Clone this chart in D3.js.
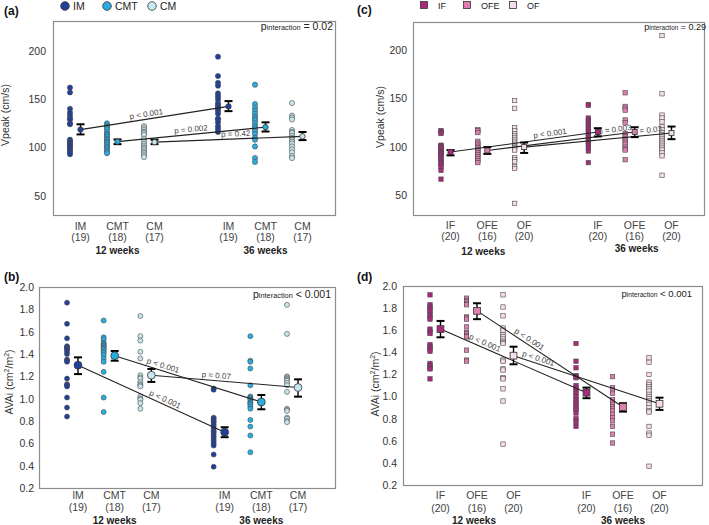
<!DOCTYPE html>
<html><head><meta charset="utf-8">
<script src="https://cdn.jsdelivr.net/npm/d3@7"></script>
<style>
body{margin:0;background:#fff;}
svg text{font-family:"Liberation Sans",Arial,sans-serif;}
</style></head><body>
<svg id="fig" width="709" height="525"></svg>
<script>
// slot order in every panel: 12 weeks (g1,g2,g3), 36 weeks (g1,g2,g3)
const mothGroups = ["IM", "CMT", "CM"];
const mothN = [19, 18, 17];
const fathGroups = ["IF", "OFE", "OF"];
const fathN = [20, 16, 20];
const weekLabels = ["12 weeks", "36 weeks"];

// (a) Vpeak by maternal group
const vpeakIM12 = [162,157,140,136,133,130,129,125,124,108,106,105,103,102,100,99,97,95,93];
const vpeakCMT12 = [125,123,121,119,116,114,113,111,109,108,106,105,103,101,100,98,96,94];
const vpeakCM12 = [122,120,118,116,115,113,109,106,104,102,100,99,97,95,94,92,90];
const vpeakIM36 = [194,174,167,164,156,153,150,146,144,142,140,138,135,130,129,126,122,119,116];
const vpeakCMT36 = [165,145,141,138,135,132,130,128,125,122,120,117,114,110,108,101,89,85];
const vpeakCM36 = [146,133,131,129,118,116,115,112,110,108,106,104,101,98,95,91,89];
const vpeakMothMean = [118.5, 106, 105.5, 142.5, 121, 111.5];
const vpeakMothLo = [113.5, 103.4, 103.4, 137.6, 116.5, 107.6];
const vpeakMothHi = [124, 108.3, 108, 148, 126, 116];
const vpeakMothP = ["p < 0.001", "p = 0.002", "p = 0.42"];

// (b) AVAi by maternal group
const avaiIM12 = [1.86,1.67,1.54,1.47,1.46,1.45,1.44,1.42,1.40,1.35,1.34,1.33,1.18,1.13,1.12,1.11,1.01,0.92,0.84];
const avaiCMT12 = [1.70,1.55,1.53,1.50,1.49,1.48,1.47,1.46,1.45,1.44,1.42,1.41,1.39,1.36,1.33,1.24,1.01,0.88];
const avaiCM12 = [1.74,1.56,1.52,1.42,1.36,1.21,1.19,1.18,1.15,1.13,1.12,1.11,1.02,1.00,0.99,0.96,0.91];
const avaiIM36 = [1.09,1.08,0.83,0.82,0.80,0.79,0.77,0.75,0.73,0.71,0.70,0.68,0.66,0.64,0.62,0.60,0.58,0.50,0.39];
const avaiCMT36 = [1.56,1.34,1.33,1.27,1.12,1.02,1.01,1.00,0.99,0.97,0.96,0.95,0.93,0.91,0.81,0.75,0.67,0.52];
const avaiCM36 = [1.84,1.58,1.20,1.19,1.18,1.17,1.16,1.14,1.12,1.06,0.91,0.90,0.89,0.83,0.82,0.80,0.79];
const avaiMothMean = [1.30, 1.385, 1.21, 0.70, 0.97, 1.10];
const avaiMothLo = [1.22, 1.34, 1.15, 0.655, 0.905, 1.018];
const avaiMothHi = [1.37, 1.427, 1.266, 0.744, 1.033, 1.173];
const avaiMothP = ["p < 0.001", "p < 0.001", "p = 0.07"];

// (c) Vpeak by paternal group
const vpeakIF12 = [117,116,114,102,101,100,99,97,95,94,93,92,90,88,86,84,82,80,76,67];
const vpeakOFE12 = [118,117,115,106,104,102,100,99,97,96,94,92,90,88,86,84];
const vpeakOF12 = [148,140,120,117,114,112,110,108,106,104,102,100,99,97,89,87,85,80,78,42];
const vpeakIF36 = [144,143,130,128,126,124,122,120,118,116,114,112,110,108,106,104,102,99,96,84];
const vpeakOFE36 = [156,142,140,138,128,125,114,111,109,107,105,103,100,98,97,87];
const vpeakOF36 = [215,155,133,130,126,121,118,115,113,111,109,107,105,103,101,99,97,94,91,71];
const vpeakFathMean = [95, 96.5, 100, 115.5, 115.5, 114.5];
const vpeakFathLo = [91.5, 93, 94, 111, 110.3, 108.2];
const vpeakFathHi = [97, 100, 104.7, 119.5, 120.5, 121.2];
const vpeakFathP = ["p < 0.001", "p = 0.003", "p = 0.03"];

// (d) AVAi by paternal group
const avaiIF12 = [1.92,1.83,1.81,1.79,1.77,1.74,1.72,1.70,1.61,1.59,1.57,1.47,1.45,1.43,1.41,1.30,1.28,1.26,1.25,1.16];
const avaiOFE12 = [1.89,1.87,1.86,1.84,1.83,1.72,1.71,1.70,1.63,1.58,1.57,1.55,1.54,1.42,1.33,1.32];
const avaiOF12 = [1.92,1.81,1.73,1.62,1.60,1.56,1.54,1.52,1.50,1.49,1.48,1.33,1.32,1.25,1.24,1.17,1.16,1.07,0.96,0.57];
const avaiIF36 = [1.48,1.32,1.26,1.19,1.18,1.17,1.10,1.08,1.05,1.03,1.00,0.97,0.95,0.93,0.90,0.88,0.85,0.80,0.77,0.73];
const avaiOFE36 = [1.18,1.08,1.06,1.03,0.97,0.95,0.93,0.91,0.89,0.87,0.84,0.81,0.78,0.73,0.66,0.58];
const avaiOF36 = [1.35,1.31,1.20,1.13,1.11,1.09,1.07,1.05,1.02,1.00,0.98,0.96,0.93,0.90,0.87,0.86,0.73,0.67,0.65,0.37];
const avaiFathMean = [1.61, 1.775, 1.37, 1.035, 0.905, 0.935];
const avaiFathLo = [1.536, 1.70, 1.292, 0.985, 0.864, 0.879];
const avaiFathHi = [1.684, 1.844, 1.451, 1.081, 0.94, 0.99];
const avaiFathP = ["p < 0.001", "p < 0.001", "p < 0.001"];

const vpeakTicks = [50, 100, 150, 200];
const avaiTicks = [0.2, 0.4, 0.6, 0.8, 1.0, 1.2, 1.4, 1.6, 1.8, 2.0];

const mothColors = ["#21409a", "#2aaee0", "#c8e6ef"];
const fathColors = ["#a92a7c", "#df7fb1", "#f6dce8"];

const svg = d3.select("#fig");
const slotPos = [0, 1, 2, 4, 5, 6];

function addMarker(sel, shape, size, fill) {
	if (shape === "circle") {
		return sel.append("circle").attr("r", size).attr("fill", fill);
	}
	return sel.append("rect").attr("x", -size).attr("y", -size)
		.attr("width", size * 2).attr("height", size * 2).attr("fill", fill);
}

function drawPanel(c) {
	const g = svg.append("g");
	const x = d3.scaleLinear().domain([0, 6]).range(c.dotRange);
	const y = d3.scaleLinear().domain(c.yDomain).range([c.frame[3], c.frame[1]]);
	const mx = i => x(slotPos[i]) + c.meanOff;

	// frame
	g.append("rect")
		.attr("x", c.frame[0] + 0.5).attr("y", c.frame[1] + 0.5)
		.attr("width", c.frame[2] - c.frame[0]).attr("height", c.frame[3] - c.frame[1])
		.attr("fill", "none").attr("stroke", "#8c8c8c").attr("stroke-width", 1.2);

	// y axis
	const ax = g.append("g")
		.attr("transform", `translate(${c.frame[0] - c.tickGap},0)`)
		.call(d3.axisLeft(y).tickValues(c.ticks).tickSize(0).tickPadding(0).tickFormat(c.fmt));
	ax.select(".domain").remove();
	ax.attr("font-family", null).attr("font-size", null);
	ax.selectAll("text").attr("font-size", 10.5).attr("fill", "#333");

	g.append("text")
		.attr("transform", `translate(${c.ylabelX},${c.ylabelY}) rotate(-90)`)
		.attr("text-anchor", "middle").attr("font-size", 10.5).attr("fill", "#333")
		.call(t => c.ylabel(t));

	// x labels
	for (let i = 0; i < 6; i++) {
		g.append("text").attr("x", mx(i)).attr("y", c.labY[0])
			.attr("text-anchor", "middle").attr("font-size", 10.5).attr("fill", "#444")
			.text(c.groups[i % 3]);
		g.append("text").attr("x", mx(i)).attr("y", c.labY[1])
			.attr("text-anchor", "middle").attr("font-size", 10.5).attr("fill", "#444")
			.text("(" + c.ns[i % 3] + ")");
	}
	weekLabels.forEach((w, k) => {
		g.append("text").attr("x", mx(k * 3 + 1) + c.weekOff[k]).attr("y", c.weekY[k])
			.attr("text-anchor", "middle").attr("font-size", 10).attr("font-weight", "bold")
			.attr("fill", "#222").text(w);
	});

	// individual points
	c.values.forEach((vals, i) => {
		g.append("g").selectAll("g").data(vals).join("g")
			.attr("transform", d => `translate(${x(slotPos[i])},${y(d)})`)
			.each(function () {
				addMarker(d3.select(this), c.shape, c.dotSize, c.colors[i % 3])
					.attr("stroke", "#4a4a4a").attr("stroke-width", 0.6);
			});
	});

	// lines between 12 and 36 week means
	for (let k = 0; k < 3; k++) {
		const x1 = mx(k), y1 = y(c.mean[k]), x2 = mx(k + 3), y2 = y(c.mean[k + 3]);
		g.append("line").attr("x1", x1).attr("y1", y1).attr("x2", x2).attr("y2", y2)
			.attr("stroke", "#222").attr("stroke-width", 1.1);
		const t = c.pT[k];
		const px = x1 + (x2 - x1) * t, py = y1 + (y2 - y1) * t;
		const ang = Math.atan2(y2 - y1, x2 - x1) * 180 / Math.PI;
		g.append("text")
			.attr("transform", `translate(${px},${py}) rotate(${ang})`)
			.attr("y", -2.5).attr("text-anchor", "middle")
			.attr("font-size", 8).attr("fill", "#444").text(c.p[k]);
	}

	// error bars and means
	for (let i = 0; i < 6; i++) {
		const cx = mx(i), lo = y(c.lo[i]), hi = y(c.hi[i]);
		g.append("line").attr("x1", cx).attr("x2", cx).attr("y1", lo).attr("y2", hi)
			.attr("stroke", "#000").attr("stroke-width", 1.4);
		[lo, hi].forEach(yy => {
			g.append("line").attr("x1", cx - 4).attr("x2", cx + 4).attr("y1", yy).attr("y2", yy)
				.attr("stroke", "#000").attr("stroke-width", 2);
		});
		const m = g.append("g").attr("transform", `translate(${cx},${y(c.mean[i])})`);
		addMarker(m, c.shape, c.meanSize, c.colors[i % 3])
			.attr("stroke", "#333").attr("stroke-width", 0.8);
	}

	// p interaction
	const pt = g.append("text").attr("x", c.pint[0]).attr("y", c.pint[1])
		.attr("text-anchor", "end").attr("fill", "#222");
	pt.append("tspan").attr("font-size", c.pintSize).text("p");
	pt.append("tspan").attr("font-size", c.pintSize * 0.7).text("interaction");
	pt.append("tspan").attr("font-size", c.pintSize).text(" " + c.pintText);

	// panel letter
	g.append("text").attr("x", c.letterPos[0]).attr("y", c.letterPos[1])
		.attr("font-size", 12).attr("font-weight", "bold").attr("fill", "#111").text(c.letter);

	// legend
	if (c.legend) {
		c.legend.forEach((lx, k) => {
			const lg = g.append("g").attr("transform", `translate(${lx},${c.legendY})`);
			addMarker(lg, c.shape, c.legendSize, c.colors[k])
				.attr("stroke", "#333").attr("stroke-width", 0.8);
			g.append("text").attr("x", lx + c.legendGap).attr("y", c.legendY + 3.8)
				.attr("font-size", c.legendFont).attr("fill", "#222").text(c.groups[k]);
		});
	}
}

const vpeakLabel = t => t.text("Vpeak (cm/s)");
const avaiLabel = t => {
	t.append("tspan").text("AVAi (cm");
	t.append("tspan").attr("font-size", 7).attr("dy", -4).text("2");
	t.append("tspan").attr("dy", 4).text("/m");
	t.append("tspan").attr("font-size", 7).attr("dy", -4).text("2");
	t.append("tspan").attr("dy", 4).text(")");
};

drawPanel({
	letter: "(a)", letterPos: [4, 15],
	frame: [53, 21, 335, 215], dotRange: [70, 292], meanOff: 10.5,
	yDomain: [30, 231], ticks: vpeakTicks, fmt: d3.format("d"), tickGap: 7,
	ylabel: vpeakLabel, ylabelX: 9, ylabelY: 115,
	groups: mothGroups, ns: mothN, labY: [230, 241], weekY: [254, 254], weekOff: [0, 0],
	values: [vpeakIM12, vpeakCMT12, vpeakCM12, vpeakIM36, vpeakCMT36, vpeakCM36],
	mean: vpeakMothMean, lo: vpeakMothLo, hi: vpeakMothHi,
	p: vpeakMothP, pT: [0.45, 0.5, 0.55],
	colors: mothColors, shape: "circle", dotSize: 2.6, meanSize: 2.7,
	pint: [333, 30], pintSize: 10.5, pintText: "= 0.02",
	legend: [65, 107, 152], legendY: 6, legendSize: 4.3, legendGap: 8, legendFont: 10.5
});

drawPanel({
	letter: "(b)", letterPos: [4, 281],
	frame: [39, 287, 335, 488], dotRange: [67, 287], meanOff: 11,
	yDomain: [0.2, 2.0], ticks: avaiTicks, fmt: d3.format(".1f"), tickGap: 5,
	ylabel: avaiLabel, ylabelX: 13, ylabelY: 382,
	groups: mothGroups, ns: mothN, labY: [499, 511], weekY: [524, 524], weekOff: [0, 0],
	values: [avaiIM12, avaiCMT12, avaiCM12, avaiIM36, avaiCMT36, avaiCM36],
	mean: avaiMothMean, lo: avaiMothLo, hi: avaiMothHi,
	p: avaiMothP, pT: [0.58, 0.32, 0.44],
	colors: mothColors, shape: "circle", dotSize: 2.5, meanSize: 3.9,
	pint: [331, 298], pintSize: 10.5, pintText: "< 0.001"
});

drawPanel({
	letter: "(c)", letterPos: [357, 14],
	frame: [413, 22, 704, 215], dotRange: [441, 662], meanOff: 9.5,
	yDomain: [30, 229], ticks: vpeakTicks, fmt: d3.format("d"), tickGap: 6,
	ylabel: vpeakLabel, ylabelX: 384, ylabelY: 117,
	groups: fathGroups, ns: fathN, labY: [229, 240], weekY: [255, 252], weekOff: [-4, 2],
	values: [vpeakIF12, vpeakOFE12, vpeakOF12, vpeakIF36, vpeakOFE36, vpeakOF36],
	mean: vpeakFathMean, lo: vpeakFathLo, hi: vpeakFathHi,
	p: vpeakFathP, pT: [0.68, 0.87, 0.84],
	colors: fathColors, shape: "square", dotSize: 2.2, meanSize: 2.5,
	pint: [706, 30], pintSize: 9, pintText: "= 0.29",
	legend: [424, 467, 513], legendY: 5, legendSize: 3.5, legendGap: 14, legendFont: 9
});

drawPanel({
	letter: "(d)", letterPos: [357, 281],
	frame: [403, 286, 702, 485], dotRange: [430, 649], meanOff: 10.5,
	yDomain: [0.2, 2.0], ticks: avaiTicks, fmt: d3.format(".1f"), tickGap: 6,
	ylabel: avaiLabel, ylabelX: 379, ylabelY: 384,
	groups: fathGroups, ns: fathN, labY: [499, 512], weekY: [524, 524], weekOff: [-3, 0],
	values: [avaiIF12, avaiOFE12, avaiOF12, avaiIF36, avaiOFE36, avaiOF36],
	mean: avaiFathMean, lo: avaiFathLo, hi: avaiFathHi,
	p: avaiFathP, pT: [0.29, 0.34, 0.16],
	colors: fathColors, shape: "square", dotSize: 2.2, meanSize: 3.4,
	pint: [692, 297], pintSize: 9.5, pintText: "< 0.001"
});
</script>
</body></html>
